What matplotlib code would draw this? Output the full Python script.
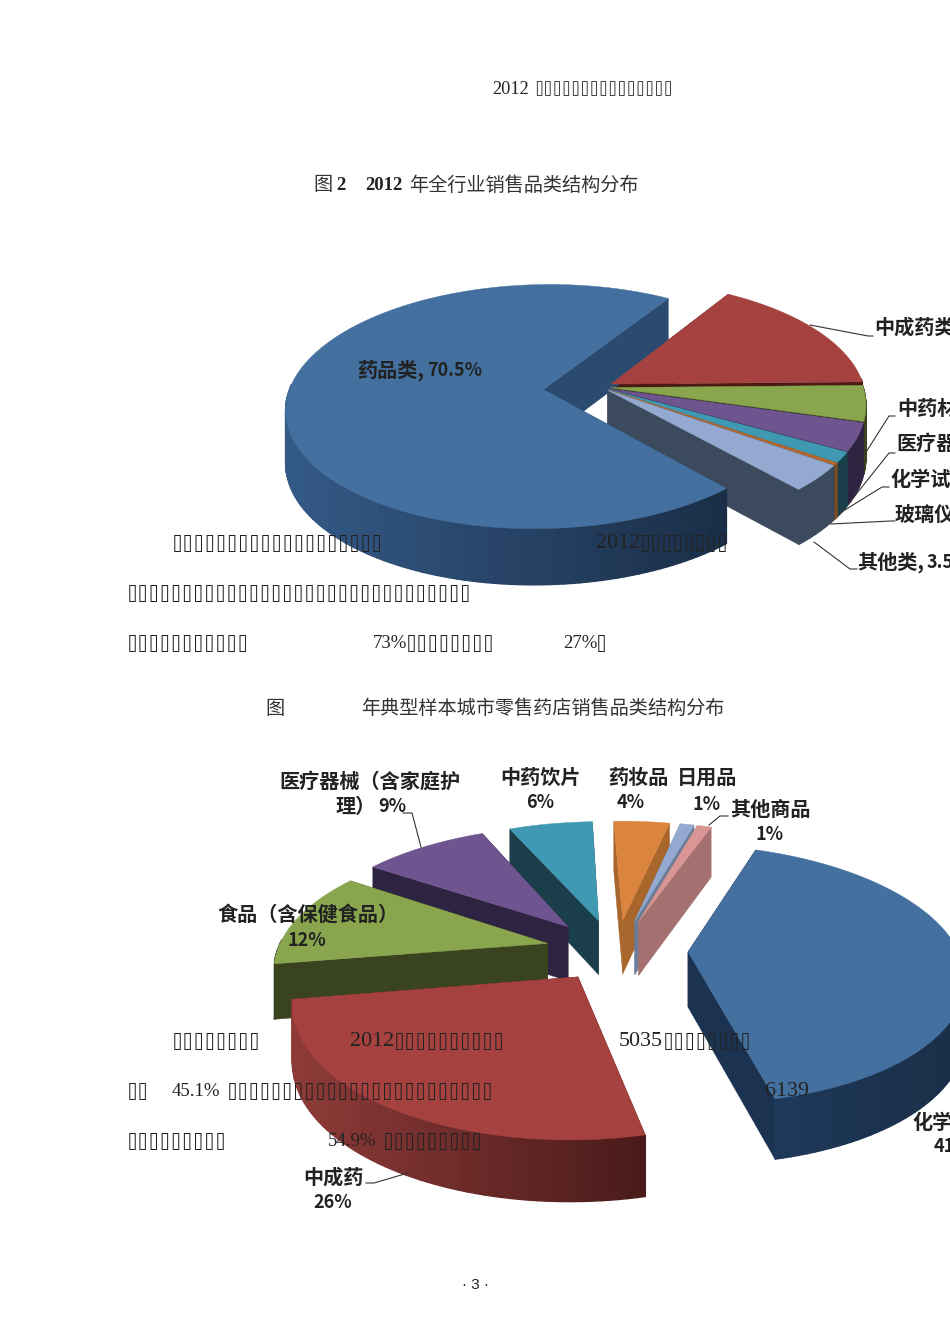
import numpy as np
import matplotlib
matplotlib.use('Agg')
import matplotlib.pyplot as plt
from matplotlib.patches import Polygon

# chart 1: whole industry
cats1 = ['药品类', '中成药类', '中药材', '医疗器械', '化学试剂', '玻璃仪器', '其他类']
vals1 = [70.5, 15.9, 4.7, 3.7, 1.4, 0.3, 3.5]
# chart 2: sample city pharmacies
cats2 = ['化学药品', '中成药', '食品（含保健食品）', '医疗器械（含家庭护理）', '中药饮片', '药妆品', '日用品', '其他商品']
vals2 = [41, 26, 12, 9, 6, 4, 1, 1]

# colours
top1 = ['#44709F', '#A5423F', '#89A54E', '#6F5590', '#4099B2', '#B5692E', '#93A9CF']
wall1 = ['#2A4A70', '#4C1A14', '#3A431F', '#2E2340', '#1A3F4B', '#7A4A20', '#3B4A5C']
top2 = ['#44709F', '#A5423F', '#89A54E', '#6F5590', '#4099B2', '#DB843D', '#93A9CF', '#D99694']
wall2 = ['#1B3350', '#5A2422', '#3A431F', '#2E2340', '#1A3F4B', '#A8652C', '#6A7D9A', '#A47070']
grad1 = {0: ('#345A87', '#1A2E47')}
grad2 = {0: ('#1E3A5C', '#1A2E47'), 1: ('#8E3B38', '#4A1B1A')}

SANS = ['Noto Sans CJK SC', 'DejaVu Sans']
MONO = ['Liberation Mono', 'DejaVu Sans Mono']
BOX = '\u2337'


def lerp(c1, c2, t):
    a = np.array(matplotlib.colors.to_rgb(c1))
    b = np.array(matplotlib.colors.to_rgb(c2))
    return tuple(a + (b - a) * t)


def draw_pie(ax, vals, start, explode, nudge, center, fx, fy, p, depth, tops, walls, grads, order):
    cx, cy = center

    def proj(X, Y):
        w = 1 + p * Y
        return cx + fx * X / w, cy - fy * Y / w, depth / np.sqrt(w)

    a0 = start
    parts = []
    for i, v in enumerate(vals):
        a1 = a0 - 360 * v / sum(vals)
        parts.append((a0, a1))
        a0 = a1

    for i in order:
        a0, a1 = parts[i]
        mid = np.radians((a0 + a1) / 2)
        ox, oy = explode[i] * np.cos(mid), explode[i] * np.sin(mid)
        ang = np.radians(np.linspace(a0, a1, max(int(abs(a0 - a1) / 1.5), 6)))
        xs, ys, ds = proj(ox + np.cos(ang), oy + np.sin(ang))
        ax0, ay0, ad0 = proj(ox, oy)
        xs = xs + nudge[i]
        ax0 = ax0 + nudge[i]

        # radial side walls
        for x, y, d in [(xs[0], ys[0], ds[0]), (xs[-1], ys[-1], ds[-1])]:
            ax.add_patch(Polygon([(ax0, ay0), (x, y), (x, y + d), (ax0, ay0 + ad0)],
                                 fc=walls[i], ec=walls[i], lw=0.3, zorder=2))
        # outer wall, strip by strip
        for k in range(len(ang) - 1):
            if np.sin((ang[k] + ang[k + 1]) / 2) > 0.04:
                continue
            if i in grads:
                t = np.clip((xs[k] - xs.min()) / (xs.max() - xs.min()), 0, 1)
                col = lerp(grads[i][0], grads[i][1], t)
            else:
                col = walls[i]
            ax.add_patch(Polygon([(xs[k], ys[k]), (xs[k + 1], ys[k + 1]),
                                  (xs[k + 1], ys[k + 1] + ds[k + 1]), (xs[k], ys[k] + ds[k])],
                                 fc=col, ec=col, lw=1.0, zorder=2))
        pts = [(ax0, ay0)] + list(zip(xs, ys))
        ax.add_patch(Polygon(pts, fc=tops[i], ec=tops[i], lw=0.3, zorder=3))


def label(ax, x, y, s, size=14.5, ha='left', bold=True):
    ax.text(x, y, s, fontsize=size, ha=ha, va='center', family=SANS,
            fontweight='bold' if bold else 'normal', color='#222222', zorder=5)


def leader(ax, pts):
    ax.plot(*zip(*pts), color='#333333', lw=0.8, zorder=4)


def body(ax, x, y, digits='', boxes=0, pitch=11.0):
    # digits in a tall serif, then the empty boxes on a fixed pitch
    size_pt = pitch * 2 * 0.72
    if '%' in digits:
        size_pt = 13.5
    if digits:
        ax.text(x, y, digits, fontsize=size_pt, ha='left', va='center',
                family='Liberation Serif', color='#222222', zorder=6)
    if boxes:
        ax.text(x + len(digits) * pitch, y + 2, BOX * boxes, fontsize=pitch / 0.6 * 0.72,
                ha='left', va='center', family=MONO, color='#222222', zorder=6)


fig = plt.figure(figsize=(9.5, 13.44), dpi=100)
ax = fig.add_axes([0, 0, 1, 1])
ax.set_xlim(0, 950)
ax.set_ylim(1344, 0)
ax.axis('off')

draw_pie(ax, vals1, 312.1, [0.225, 0.05, 0.04, 0.04, 0.04, 0.04, 0.04], [0] * 7, (600, 387),
         253, 119, 0.14, 52, top1, wall1, grad1, [1, 2, 3, 4, 5, 6, 0])
draw_pie(ax, vals2, 70.5, [0.27, 0.25, 0.25, 0.25, 0.25, 0.25, 0.25, 0.25],
         [0, 2, -2, -5, -2, 2, 4, 4], (615, 950),
         270, 125, 0.17, 55, top2, wall2, grad2, [5, 6, 7, 4, 3, 2, 0, 1])

# header and captions
body(ax, 492, 89, '2012', pitch=9.2)
body(ax, 534, 88, boxes=15, pitch=9.2)
ax.text(313, 185, '图', fontsize=13.8, ha='left', va='center', family=SANS, color='#333333')
ax.text(336, 185, '2', fontsize=13.5, ha='left', va='center', family='Liberation Serif', fontweight='bold', color='#222222')
ax.text(365, 185, '2012', fontsize=13.5, ha='left', va='center', family='Liberation Serif', fontweight='bold', color='#222222')
ax.text(409, 185, '年全行业销售品类结构分布', fontsize=13.8, ha='left', va='center', family=SANS, color='#333333')
ax.text(265, 708, '图', fontsize=13.8, ha='left', va='center', family=SANS, color='#333333')
ax.text(361, 708, '年典型样本城市零售药店销售品类结构分布', fontsize=13.8, ha='left', va='center', family=SANS, color='#333333')

# chart 1 labels
label(ax, 357, 370, cats1[0] + ',')
label(ax, 427, 371, f'{vals1[0]}%', size=13)
label(ax, 874, 327, cats1[1])
label(ax, 897, 408, cats1[2])
label(ax, 896, 444, cats1[3])
label(ax, 890, 479, cats1[4])
label(ax, 895, 514, cats1[5])
label(ax, 857, 562, cats1[6] + ',')
label(ax, 927, 563, f'{vals1[6]}%', size=13)
leader(ax, [(810, 325), (868, 336), (873, 336)])
leader(ax, [(861, 460), (889, 416), (895, 416)])
leader(ax, [(850, 502), (889, 453), (895, 453)])
leader(ax, [(840, 513), (882, 487), (889, 487)])
leader(ax, [(831, 524), (891, 521), (895, 521)])
leader(ax, [(814, 542), (850, 569), (857, 569)])

# chart 2 labels
label(ax, 279, 781, '医疗器械（含家庭护')
label(ax, 336, 806, '理）')
label(ax, 378, 807, f'{vals2[3]}%', size=13)
label(ax, 500, 777, cats2[4])
label(ax, 540, 802, f'{vals2[4]}%', size=13, ha='center')
label(ax, 608, 777, cats2[5])
label(ax, 631, 802, f'{vals2[5]}%', size=13, ha='center')
label(ax, 677, 777, cats2[6])
label(ax, 707, 804, f'{vals2[6]}%', size=13, ha='center')
label(ax, 730, 809, cats2[7])
label(ax, 770, 834, f'{vals2[7]}%', size=13, ha='center')
label(ax, 217, 914, cats2[2])
label(ax, 307, 940, f'{vals2[2]}%', size=13, ha='center')
label(ax, 303, 1177, cats2[1])
label(ax, 333, 1202, f'{vals2[1]}%', size=13, ha='center')
label(ax, 912, 1122, cats2[0])
label(ax, 934, 1146, f'{vals2[0]}%', size=13)
leader(ax, [(403, 813), (412, 813), (421, 847)])
leader(ax, [(728, 816), (720, 816), (709, 825)])
leader(ax, [(366, 1183), (374, 1183), (408, 1173)])

# body text, font glyphs missing in the source page
body(ax, 172, 543, boxes=19)
body(ax, 596, 543, '2012', 8)
body(ax, 127, 593, boxes=31)
body(ax, 127, 644, boxes=11)
body(ax, 373, 644, '73%', 8)
body(ax, 563, 644, '27%', 1)
body(ax, 172, 1041, boxes=8)
body(ax, 350, 1041, '2012', 10)
body(ax, 619, 1041, '5035', 8)
body(ax, 127, 1091, boxes=2)
body(ax, 172, 1091, '45.1%', 24)
body(ax, 765, 1091, '6139')
body(ax, 127, 1141, boxes=9)
body(ax, 328, 1141, '54.9%', 9)
ax.text(475, 1285, '· 3 ·', fontsize=11, ha='center', va='center', family='Liberation Sans', color='#222222')

fig.savefig('out.png', dpi=100)
